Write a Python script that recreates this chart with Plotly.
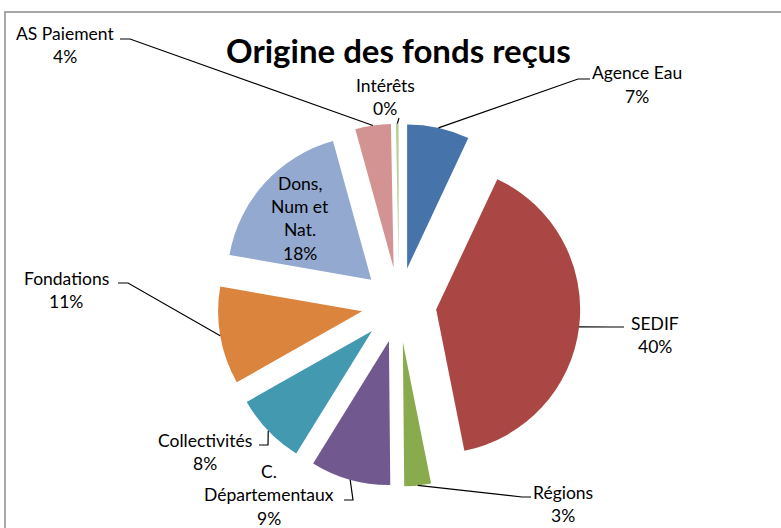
import math
import plotly.graph_objects as go

# ---------------- data ----------------
labels = ["Agence Eau", "SEDIF", "Régions", "C. Départementaux", "Collectivités",
          "Fondations", "Dons, Num et Nat.", "AS Paiement", "Intérêts"]
values = [7, 40, 3, 9, 8, 11, 18, 4, 0.3]
label_lines = [["Agence Eau"], ["SEDIF"], ["Régions"], ["C.", "Départementaux"],
               ["Collectivités"], ["Fondations"], ["Dons,", "Num et", "Nat."],
               ["AS Paiement"], ["Intérêts"]]
colors = ["#4673AA", "#AA4745", "#8AAA4E", "#71598F", "#4299B0",
          "#DB843E", "#93A9D0", "#D29392", "#B9CD96"]
title = "Origine des fonds reçus"

# ---------------- layout geometry (pixels) ----------------
W, H = 781, 528
CX, CY = 399, 305
R = 144
PULL = 0.26
BOX = 2 * R * (1 + PULL)
FONT = "Lato, 'Open Sans', sans-serif"
LINE_H = 23.5

# label placement: (x centre, first line y, leader path points near the text)
label_pos = {
    "Agence Eau": (637, 73, [(578, 79), (590, 79)]),
    "SEDIF": (655, 323, [(612, 327), (624, 327)]),
    "Régions": (563, 492, [(522, 497), (531, 497)]),
    "C. Départementaux": (269, 471, [(353, 500), (344, 500)]),
    "Collectivités": (205, 440, [(268, 445), (259, 445)]),
    "Fondations": (66, 278, [(128, 283), (118, 283)]),
    "Dons, Num et Nat.": (300, 183, None),
    "AS Paiement": (65, 33, [(130, 39), (120, 39)]),
    "Intérêts": (385, 85, [(399, 118)]),
}


def px(x, y):
    return x / W, 1 - y / H


total = sum(values)
fig = go.Figure()
fig.add_trace(go.Pie(
    labels=labels, values=values, sort=False, direction="clockwise", rotation=0,
    pull=[PULL] * len(values), marker=dict(colors=colors, line=dict(width=0)),
    textinfo="none", showlegend=False,
    domain=dict(x=[(CX - BOX / 2) / W, (CX + BOX / 2) / W],
                y=[1 - (CY + BOX / 2) / H, 1 - (CY - BOX / 2) / H]),
))

annotations = []
shapes = []
cum = 0.0
for lab, val, lines in zip(labels, values, label_lines):
    mid = (cum + val / 2) / total
    cum += val
    th = 2 * math.pi * mid
    ax = CX + R * (1 + PULL) * math.sin(th)
    ay = CY - R * (1 + PULL) * math.cos(th)
    pct = f"{round(val / total * 100):d}%"
    x0, y0, leader = label_pos[lab]
    for k, t in enumerate(lines + [pct]):
        xx, yy = px(x0, y0 + k * LINE_H)
        annotations.append(dict(x=xx, y=yy, xref="paper", yref="paper", text=t,
                                showarrow=False, xanchor="center", yanchor="middle",
                                font=dict(family=FONT, size=17.5, color="#000")))
    if leader:
        pts = [(ax, ay)] + leader
        path = "M " + " L ".join(f"{px(a, b)[0]:.5f},{px(a, b)[1]:.5f}" for a, b in pts)
        shapes.append(dict(type="path", xref="paper", yref="paper", path=path,
                           line=dict(color="#000", width=1.2)))

tx, ty = px(398, 50)
annotations.append(dict(x=tx, y=ty, xref="paper", yref="paper", text=f"<b>{title}</b>",
                        showarrow=False, xanchor="center", yanchor="middle",
                        font=dict(family=FONT, size=33, color="#000")))

# chart frame
fx0, fy0 = px(5, 12)
shapes.append(dict(type="rect", xref="paper", yref="paper", x0=fx0, y0=-0.02, x1=1.02, y1=fy0,
                   line=dict(color="#8C8C8C", width=1.5), fillcolor="rgba(0,0,0,0)", layer="below"))

fig.update_layout(width=W, height=H, margin=dict(l=0, r=0, t=0, b=0),
                  paper_bgcolor="white", plot_bgcolor="white",
                  annotations=annotations, shapes=shapes)
fig.write_html("out.html", config={"displayModeBar": False},
               post_script="document.body.style.margin='0';document.body.style.overflow='hidden';")
